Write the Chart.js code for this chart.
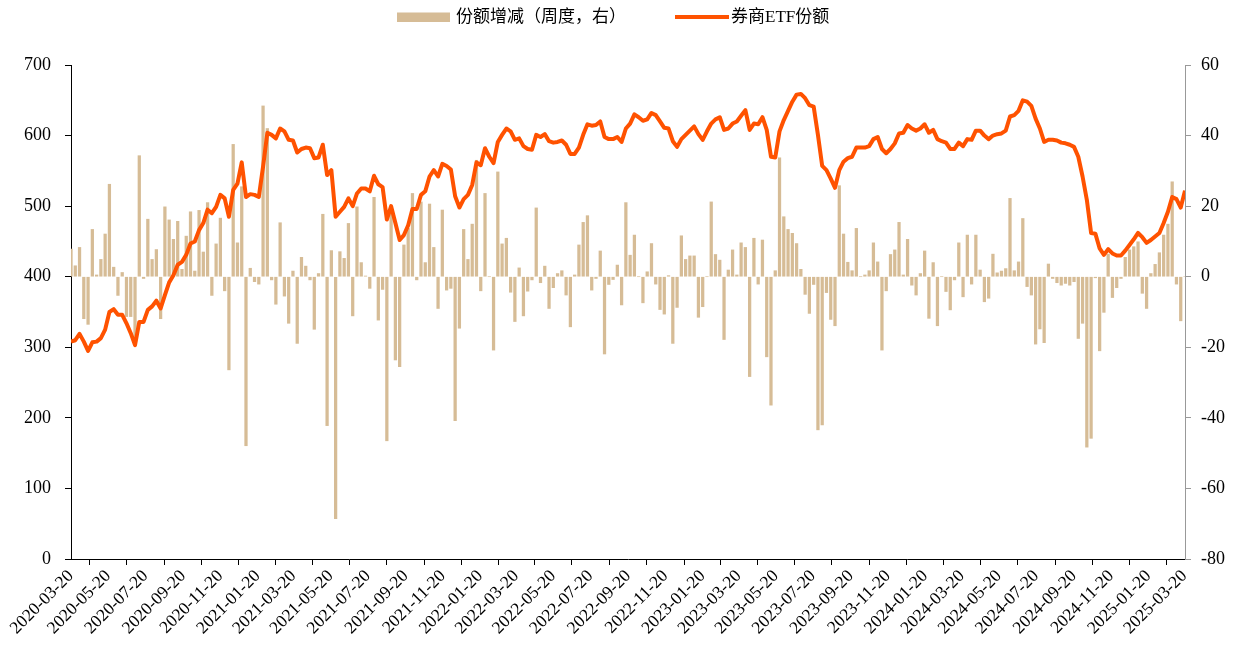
<!DOCTYPE html>
<html>
<head>
<meta charset="utf-8">
<script src="https://cdn.jsdelivr.net/npm/chart.js@4"></script>
<style>
  html, body { margin: 0; padding: 0; background: #fff; }
</style>
</head>
<body>
<canvas id="chart" width="1239" height="647"></canvas>
<script>
// Data: weekly, starting 2020-03-20
const startDate = '2020-03-20';

const tickLabels = [
  '2020-03-20','2020-05-20','2020-07-20','2020-09-20','2020-11-20',
  '2021-01-20','2021-03-20','2021-05-20','2021-07-20','2021-09-20','2021-11-20',
  '2022-01-20','2022-03-20','2022-05-20','2022-07-20','2022-09-20','2022-11-20',
  '2023-01-20','2023-03-20','2023-05-20','2023-07-20','2023-09-20','2023-11-20',
  '2024-01-20','2024-03-20','2024-05-20','2024-07-20','2024-09-20','2024-11-20',
  '2025-01-20','2025-03-20'
];

// 券商ETF份额 (left axis)
const etfShares = [
  308,310,319,308,295,307,308,313,325,350,
  354,346,346,334,320,303,336,336,353,358,
  366,355,374,392,402,417,421,431,447,450,
  466,476,495,490,499,516,511,485,523,532,
  562,513,517,516,513,556,604,601,596,610,
  606,594,593,576,581,583,582,568,569,587,
  544,551,485,492,499,511,500,518,525,525,
  521,543,531,527,481,500,476,452,459,473,
  496,496,516,521,542,551,542,560,557,552,
  514,498,510,516,530,562,558,582,570,561,
  591,601,610,606,594,596,585,581,580,601,
  598,602,592,590,591,593,587,574,574,583,
  601,616,614,615,620,598,595,595,598,591,
  610,617,630,626,621,623,632,629,620,611,
  610,592,584,595,601,607,613,602,594,606,
  617,623,626,608,610,617,620,628,636,608,
  617,616,626,608,570,569,606,622,635,648,
  658,659,653,643,641,601,557,551,539,526,
  551,563,568,570,583,583,583,585,595,598,
  581,575,581,589,603,604,615,610,607,610,
  616,604,608,595,592,590,581,581,590,585,
  595,594,607,607,600,595,600,602,603,607,
  627,629,635,650,648,642,624,610,591,594,
  594,593,590,589,587,584,570,542,509,462,
  461,440,431,439,433,430,430,437,445,453,
  462,456,448,452,457,462,476,492,513,510,
  498,522
];

// 份额增减（周度，右） (right axis)
const weeklyChange = [
  7.8,3.1,8.3,-11.9,-13.5,13.4,0.5,4.9,12.1,26.2,
  2.7,-5.3,1.2,-11.3,-11.3,-19,34.3,-0.5,16.3,4.9,
  7.7,-11.9,19.8,16.1,10.6,15.7,2.1,11.5,18.4,1.6,
  18.8,7.0,21.0,-5.3,9.3,16.6,-4.0,-26.4,37.5,9.6,
  25.5,-47.9,2.4,-1.4,-2.1,48.4,42.0,-0.9,-7.8,15.3,
  -5.5,-13.2,1.6,-18.9,5.5,3.0,-0.9,-14.9,0.9,17.7,
  -42.2,7.4,-68.6,7.1,5.2,15.1,-11.1,19.8,4.0,0.2,
  -3.3,22.5,-12.3,-3.6,-46.5,18.4,-23.6,-25.5,9.0,13.7,
  23.6,-0.9,21.2,4.0,20.6,8.3,-9.0,18.9,-3.8,-3.3,
  -40.8,-14.6,13.4,4.9,14.9,33.0,-4.0,23.6,0,-20.8,
  29.7,9.3,10.9,-4.4,-12.7,2.5,-11.1,-4.1,-0.9,19.5,
  -1.7,3.0,-9.0,-3.1,0.9,1.7,-5.2,-14.2,0.5,9.0,
  15.4,17.3,-3.8,-0.5,7.3,-21.9,-2.2,-0.8,3.3,-8.0,
  21.0,6.1,11.8,0,-7.4,1.4,9.4,-2.1,-9.3,-10.6,
  0.3,-18.9,-8.7,11.6,4.9,5.9,5.9,-11.5,-8.5,0,
  21.2,6.3,4.7,-17.8,1.9,7.6,0.5,9.6,8.3,-28.3,
  10.9,-2.1,10.4,-22.7,-36.4,1.7,33.7,17.0,13.4,12.3,
  9.4,2.1,-5.0,-10.4,-2.2,-43.4,-42.0,-4.5,-12.1,-13.9,
  25.8,12.1,4.1,1.7,13.7,0,0.5,1.7,9.6,4.2,
  -20.8,-4.0,6.3,7.6,15.4,0.5,10.6,-2.4,-5.2,0.9,
  7.3,-11.8,4.0,-13.9,0,-4.2,-9.4,-0.9,9.6,-5.7,
  11.8,-2.1,11.8,1.9,-7.1,-6.1,6.4,1.1,1.6,2.3,
  22.2,1.7,4.2,16.5,-2.8,-5.2,-19.1,-14.8,-18.7,3.6,
  -0.5,-1.7,-2.4,-1.9,-2.4,-1.4,-17.5,-13.2,-48.3,-45.8,
  -0.3,-21.0,-10.1,6.4,-5.9,-3.1,-0.5,5.5,7.6,8.5,
  9.9,-4.7,-9.0,0.9,3.5,6.8,11.8,14.9,26.9,-2.1,
  -12.5,0
];

const DAY = 86400000;
const t0 = Date.parse(startDate);
const weekDays = etfShares.map((_, i) => i * 7);
const tickDays = tickLabels.map(s => Math.round((Date.parse(s) - t0) / DAY));

const FONT = "'Liberation Serif', 'Times New Roman', 'Noto Sans CJK SC', serif";
const barColor = '#D6BC96';
const lineColor = '#FF5200';

// Legend drawn at the top, centred like the original
const topLegend = {
  id: 'topLegend',
  afterDraw(chart) {
    const c = chart.ctx;
    const sets = chart.data.datasets;
    c.save();
    c.fillStyle = barColor;
    c.fillRect(397, 12.5, 53, 9.5);
    c.strokeStyle = lineColor;
    c.lineWidth = 4;
    c.beginPath();
    c.moveTo(675, 17);
    c.lineTo(729, 17);
    c.stroke();
    c.fillStyle = '#000';
    c.font = '17px ' + FONT;
    c.textBaseline = 'middle';
    c.fillText(sets[1].label, 456, 17.5);
    c.fillText(sets[0].label, 731, 17.5);
    c.restore();
  }
};

const ctx = document.getElementById('chart').getContext('2d');

new Chart(ctx, {
  type: 'bar',
  data: {
    datasets: [
      {
        type: 'line',
        label: '券商ETF份额',
        data: etfShares.map((v, i) => ({ x: weekDays[i], y: v })),
        yAxisID: 'y',
        borderColor: lineColor,
        borderWidth: 4,
        borderJoinStyle: 'round',
        pointRadius: 0,
        tension: 0,
        order: 0
      },
      {
        type: 'bar',
        label: '份额增减（周度，右）',
        data: weeklyChange.map((v, i) => ({ x: weekDays[i], y: v })),
        yAxisID: 'y1',
        backgroundColor: barColor,
        barThickness: 2.6,
        order: 1
      }
    ]
  },
  options: {
    responsive: false,
    animation: false,
    layout: { padding: { top: 65, left: 0, right: 0, bottom: 0 } },
    plugins: {
      legend: { display: false },
      tooltip: { enabled: false }
    },
    scales: {
      x: {
        type: 'linear',
        min: 0,
        max: 1827,
        offset: false,
        afterBuildTicks: s => { s.ticks = tickDays.map(v => ({ value: v })); },
        afterFit: s => { s.height = 88; },
        ticks: {
          autoSkip: false,
          minRotation: 45,
          maxRotation: 45,
          padding: 1,
          color: '#000',
          font: { family: FONT, size: 17.5 },
          callback: (v, i) => tickLabels[i]
        },
        grid: { drawOnChartArea: false, drawTicks: true, tickLength: 6, color: '#000' },
        border: { color: '#000', width: 1 }
      },
      y: {
        position: 'left',
        min: 0,
        max: 700,
        afterFit: s => { s.width = 71; },
        ticks: {
          stepSize: 100,
          padding: 14,
          color: '#000',
          font: { family: FONT, size: 18 }
        },
        grid: { drawOnChartArea: false, drawTicks: true, tickLength: 6, color: '#000' },
        border: { color: '#000', width: 1 }
      },
      y1: {
        position: 'right',
        min: -80,
        max: 60,
        afterFit: s => { s.width = 54; },
        ticks: {
          stepSize: 20,
          padding: 10,
          color: '#000',
          font: { family: FONT, size: 18 }
        },
        grid: { drawOnChartArea: false, drawTicks: true, tickLength: 6, color: '#999' },
        border: { color: '#999', width: 1 }
      }
    }
  },
  plugins: [topLegend]
});
</script>
</body>
</html>
